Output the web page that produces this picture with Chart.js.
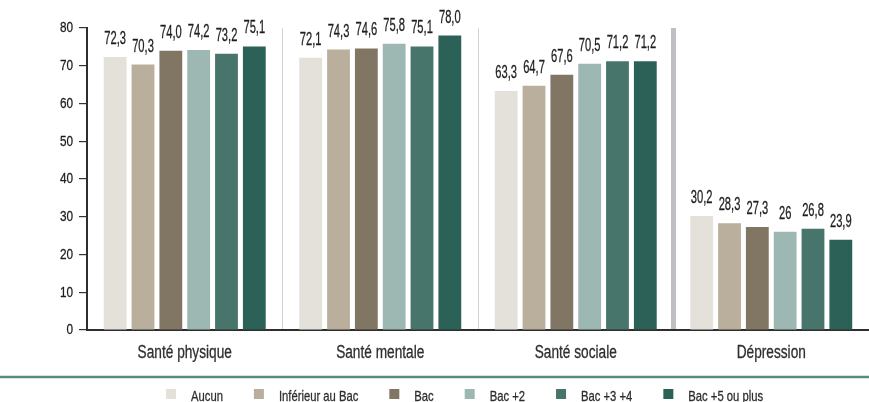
<!DOCTYPE html>
<html lang="fr">
<head>
<meta charset="utf-8">
<script src="https://cdn.jsdelivr.net/npm/chart.js@4/dist/chart.umd.min.js"></script>
<style>
  html, body { margin: 0; padding: 0; background: #ffffff; }
  #wrap { width: 869px; height: 402px; }
</style>
</head>
<body>
<div id="wrap"><canvas id="chart" width="869" height="402"></canvas></div>
<script>
// Scores by dimension of health, for each level of education
const categories = ['Santé physique', 'Santé mentale', 'Santé sociale', 'Dépression'];
const seriesNames = ['Aucun', 'Inférieur au Bac', 'Bac', 'Bac +2', 'Bac +3 +4', 'Bac +5 ou plus'];

// Printed values (French decimal comma), one list per education level
const aucun        = ['72,3', '72,1', '63,3', '30,2'];
const inferieurBac = ['70,3', '74,3', '64,7', '28,3'];
const bac          = ['74,0', '74,6', '67,6', '27,3'];
const bac2         = ['74,2', '75,8', '70,5', '26'];
const bac34        = ['73,2', '75,1', '71,2', '26,8'];
const bac5plus     = ['75,1', '78,0', '71,2', '23,9'];

const yTicks = [0, 10, 20, 30, 40, 50, 60, 70, 80];

const seriesLabels = [aucun, inferieurBac, bac, bac2, bac34, bac5plus];
const seriesColors = ['#e4e0da', '#b9af9c', '#817664', '#9db8b2', '#48756b', '#2c6158'];

const toNumber = s => parseFloat(s.replace(',', '.'));
const FONT = '"Liberation Sans", Arial, sans-serif';

// Condensed, slightly heavier lettering: every string on this canvas is squeezed
// horizontally around its anchor point, and measured accordingly so layout stays consistent.
const canvas = document.getElementById('chart');
const ctx2d = canvas.getContext('2d');
const DEFAULT_CONDENSE = 0.76;
const nativeFillText = ctx2d.fillText;
const nativeStrokeText = ctx2d.strokeText;
const nativeMeasureText = ctx2d.measureText;
ctx2d.fillText = function (text, x, y) {
  const k = this.condenseX || DEFAULT_CONDENSE;
  this.save();
  this.translate(x, y);
  this.scale(k, 1);
  nativeFillText.call(this, text, 0, 0);
  this.strokeStyle = this.fillStyle;
  this.lineWidth = 0.3;
  this.lineJoin = 'round';
  nativeStrokeText.call(this, text, 0, 0);
  this.restore();
};
ctx2d.measureText = function (text) {
  const k = this.condenseX || DEFAULT_CONDENSE;
  const m = nativeMeasureText.call(this, text);
  return {
    width: m.width * k,
    actualBoundingBoxLeft: m.actualBoundingBoxLeft * k,
    actualBoundingBoxRight: m.actualBoundingBoxRight * k,
    actualBoundingBoxAscent: m.actualBoundingBoxAscent,
    actualBoundingBoxDescent: m.actualBoundingBoxDescent,
    fontBoundingBoxAscent: m.fontBoundingBoxAscent,
    fontBoundingBoxDescent: m.fontBoundingBoxDescent
  };
};

const datasets = seriesNames.map((name, i) => ({
  label: name,
  data: seriesLabels[i].map(toNumber),
  valueLabels: seriesLabels[i],
  backgroundColor: seriesColors[i],
  borderWidth: 0,
  categoryPercentage: 0.854,
  barPercentage: 0.82
}));

// Value printed above each bar
const valueLabelsPlugin = {
  id: 'valueLabels',
  afterDatasetsDraw(chart) {
    const ctx = chart.ctx;
    ctx.save();
    ctx.condenseX = 0.62;
    ctx.font = '18px ' + FONT;
    ctx.fillStyle = '#1e1e1e';
    ctx.textAlign = 'center';
    ctx.textBaseline = 'alphabetic';
    chart.data.datasets.forEach((ds, di) => {
      chart.getDatasetMeta(di).data.forEach((bar, i) => {
        ctx.fillText(ds.valueLabels[i], bar.x, bar.y - 13);
      });
    });
    ctx.condenseX = 0;
    ctx.restore();
  }
};

// Rule under the category names and legend row beneath it
const legendRow = {
  id: 'legendRow',
  afterDraw(chart) {
    const ctx = chart.ctx;
    ctx.save();
    ctx.strokeStyle = '#5b8a7f';
    ctx.lineWidth = 2.5;
    ctx.beginPath();
    ctx.moveTo(0, 377);
    ctx.lineTo(chart.width, 377);
    ctx.stroke();

    ctx.condenseX = 0.75;
    ctx.font = '15px ' + FONT;
    ctx.textAlign = 'left';
    ctx.textBaseline = 'alphabetic';
    let x = 166;
    chart.data.datasets.forEach(ds => {
      ctx.fillStyle = ds.backgroundColor;
      ctx.fillRect(x, 389, 10, 10);
      ctx.fillStyle = '#2e2e2e';
      ctx.fillText(ds.label, x + 25, 401);
      x += 25 + ctx.measureText(ds.label).width + 31;
    });
    ctx.condenseX = 0;
    ctx.restore();
  }
};

new Chart(canvas, {
  type: 'bar',
  data: { labels: categories, datasets },
  plugins: [valueLabelsPlugin, legendRow],
  options: {
    responsive: false,
    animation: false,
    layout: { padding: { top: 28, right: -5, bottom: 40, left: 0 } },
    plugins: {
      tooltip: { enabled: false },
      legend: { display: false }
    },
    scales: {
      x: {
        offset: true,
        border: { display: true, color: '#2e2e2e', width: 2 },
        grid: {
          offset: true,
          drawTicks: false,
          color: ctx => (ctx.index === 0 || ctx.index === categories.length) ? 'rgba(0,0,0,0)' : (ctx.index === 3 ? '#c0c0c4' : '#d2d2d2'),
          lineWidth: ctx => ctx.index === 3 ? 5 : 1
        },
        ticks: {
          color: '#2e2e2e',
          padding: 12,
          font: { family: FONT, size: 18 }
        },
        afterFit(scale) { scale.height = 32; }
      },
      y: {
        min: 0,
        max: 80,
        border: { display: true, color: '#2e2e2e', width: 2 },
        grid: {
          drawOnChartArea: false,
          drawTicks: true,
          tickLength: 8,
          color: '#333333',
          lineWidth: 1.2
        },
        afterBuildTicks(scale) { scale.ticks = yTicks.map(v => ({ value: v })); },
        ticks: {
          color: '#1e1e1e',
          padding: 6,
          font: { family: FONT, size: 15.5 }
        },
        afterFit(scale) { scale.width = 87; }
      }
    }
  }
});
</script>
</body>
</html>
